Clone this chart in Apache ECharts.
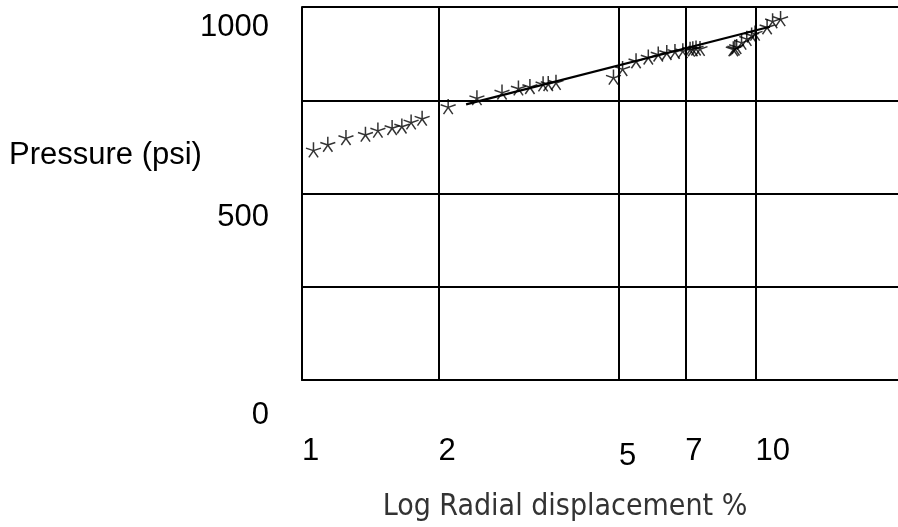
<!DOCTYPE html>
<html>
<head>
<meta charset="utf-8">
<script src="https://cdn.jsdelivr.net/npm/echarts@6/dist/echarts.min.js"></script>
<style>
  html, body { margin: 0; padding: 0; background: #fff; }
  #chart { width: 898px; height: 527px; }
</style>
</head>
<body>
<div id="chart"></div>
<script>
// Pressure readings against radial displacement (log scale)
const displacement = [
  1.06, 1.14, 1.25, 1.38, 1.47, 1.58, 1.66, 1.74, 1.84,
  2.10,
  2.43, 2.76, 3.00, 3.18, 3.40, 3.49, 3.63,
  4.86, 5.09, 5.45, 5.80, 6.10, 6.37, 6.64, 6.91, 7.17, 7.27, 7.39, 7.54,
  8.93, 9.00, 9.08, 9.31, 9.56, 9.80, 9.97, 10.6, 10.9, 11.35
];
const pressure = [
  617, 632, 650, 659, 670, 677, 681, 692, 702,
  733,
  757, 772, 783, 787, 794, 795, 798,
  812, 835, 856, 866, 874, 878, 881, 883, 887, 888, 890, 889,
  888, 890, 894, 906, 916, 925, 930, 947, 963, 969
];

// fitted straight line (two end points)
const fitX = [2.3, 10.75];
const fitY = [739, 947];

// axis ticks and grid positions
const xTickLabels = [1, 2, 5, 7, 10];
const xGridLines = [2, 5, 7, 10];
const yTickLabels = [0, 500, 1000];

const xTitle = 'Log Radial displacement %';
const yTitle = 'Pressure (psi)';

const FONT = 'Liberation Sans, Arial, sans-serif';
const NARROW = 'Liberation Sans Narrow, Arial Narrow, DejaVu Sans Condensed, sans-serif';

// five-armed asterisk marker, stroked only
const ASTERISK = 'path://M0,0L0,-6M0,0L5.71,-1.85M0,0L3.53,4.85M0,0L-3.53,4.85M0,0L-5.71,-1.85';

const points = displacement.map((x, i) => [x, pressure[i]]);
const fitLine = fitX.map((x, i) => [x, fitY[i]]);

const chart = echarts.init(document.getElementById('chart'));

chart.setOption({
  animation: false,
  backgroundColor: '#fff',
  grid: { left: 302, right: 0, top: 7, bottom: 144 },
  xAxis: {
    type: 'log',
    logBase: 10,
    min: 1,
    max: 20.6,
    axisLine: { show: true, lineStyle: { color: '#000', width: 2 } },
    axisTick: { show: false },
    splitLine: { show: false },
    axisLabel: {
      customValues: xTickLabels,
      align: 'left',
      margin: 56,
      color: '#000',
      fontFamily: FONT,
      fontSize: 31,
      formatter: v => (v === 5 ? '{lo|' + v + '}' : '{n|' + v + '}'),
      rich: {
        n: { fontFamily: FONT, fontSize: 31, color: '#000' },
        lo: { fontFamily: FONT, fontSize: 31, color: '#000', padding: [5, 0, 0, 0] }
      }
    },
    name: xTitle,
    nameLocation: 'middle',
    nameGap: 112,
    nameTextStyle: {
      fontFamily: NARROW,
      fontSize: 30,
      color: '#333',
      padding: [0, 70, 0, 0]
    }
  },
  yAxis: {
    type: 'value',
    min: 0,
    max: 1000,
    interval: 250,
    axisLine: { show: true, lineStyle: { color: '#000', width: 2 } },
    axisTick: { show: false },
    splitLine: { show: true, lineStyle: { color: '#000', width: 2 } },
    axisLabel: {
      margin: 33,
      color: '#000',
      fontFamily: FONT,
      fontSize: 31,
      formatter: v => (yTickLabels.indexOf(v) >= 0 ? '{y' + v + '|' + v + '}' : ''),
      rich: {
        y0: { fontFamily: FONT, fontSize: 31, color: '#000', padding: [71, 0, 0, 0] },
        y500: { fontFamily: FONT, fontSize: 31, color: '#000', padding: [47, 0, 0, 0] },
        y1000: { fontFamily: FONT, fontSize: 31, color: '#000', padding: [40, 0, 0, 0] }
      }
    }
  },
  graphic: [{
    type: 'text',
    left: 9,
    top: 140,
    style: { text: yTitle, font: '31px ' + FONT, fill: '#000' }
  }],
  series: [
    {
      name: 'grid',
      type: 'line',
      data: [],
      markLine: {
        silent: true,
        symbol: 'none',
        label: { show: false },
        lineStyle: { color: '#000', width: 2, type: 'solid' },
        data: xGridLines.map(v => ({ xAxis: v }))
      }
    },
    {
      name: 'fit',
      type: 'line',
      data: fitLine,
      symbol: 'none',
      lineStyle: { color: '#000', width: 2.2 },
      z: 3
    },
    {
      name: 'pressure',
      type: 'scatter',
      data: points,
      symbol: ASTERISK,
      symbolSize: 15,
      itemStyle: { color: 'rgba(0,0,0,0)', borderColor: '#000', borderWidth: 1.5 },
      z: 4
    }
  ]
});
</script>
</body>
</html>
